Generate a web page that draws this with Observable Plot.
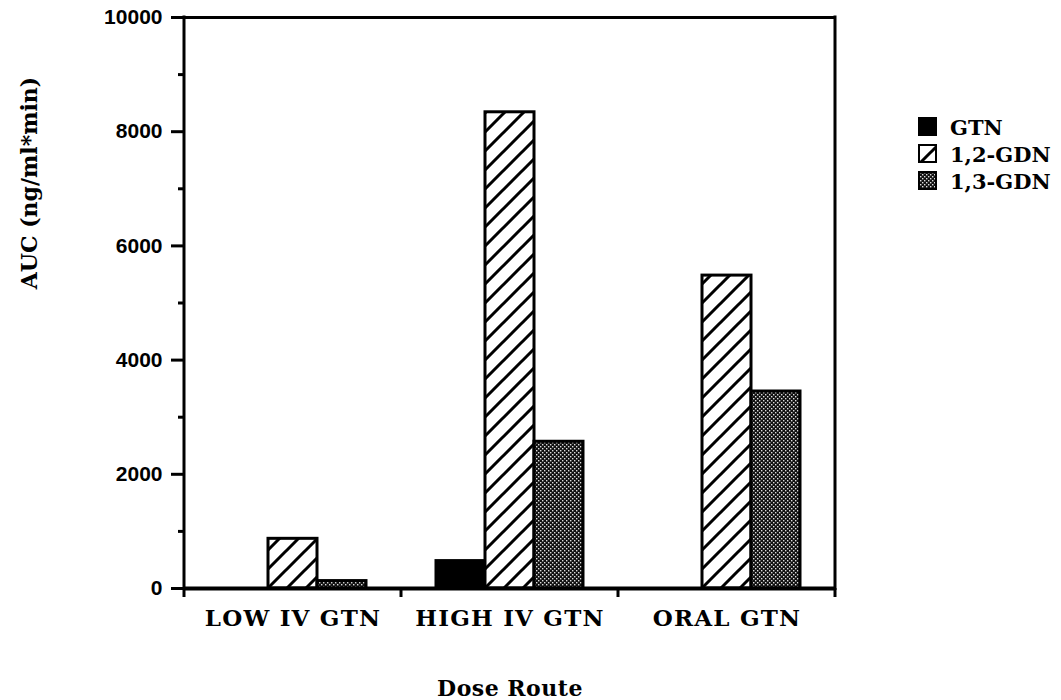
<!DOCTYPE html>
<html><head><meta charset="utf-8">
<script src="https://cdn.jsdelivr.net/npm/d3@7"></script>
<script src="https://cdn.jsdelivr.net/npm/@observablehq/plot@0.6"></script>
<style>body{margin:0;background:#fff} #chart{width:1061px;height:700px}</style>
</head><body><div id="chart"></div>
<script>
// ---- data ----
const routes = ["LOW IV GTN", "HIGH IV GTN", "ORAL GTN"];
const series = ["GTN", "1,2-GDN", "1,3-GDN"];
const gtnValues = [0, 480, 0];
const gdn12Values = [870, 8340, 5480];
const gdn13Values = [130, 2570, 3450];
const yMajorTicks = [0, 2000, 4000, 6000, 8000, 10000];
const yMinorTicks = [1000, 3000, 5000, 7000, 9000];
const yTitle = "AUC (ng/ml*min)";
const xTitle = "Dose Route";

const fills = {"GTN": "#000", "1,2-GDN": "url(#hatch)", "1,3-GDN": "url(#stipple)"};
const seriesValues = [gtnValues, gdn12Values, gdn13Values];
const data = [];
routes.forEach((r, i) => seriesValues.forEach((arr, j) => data.push({route: r, series: series[j], value: arr[i]})));

const serif = "'DejaVu Serif', 'Liberation Serif', serif";
const sans = "'Liberation Sans', Arial, sans-serif";

const barMarks = series.map(s => Plot.barY(data.filter(d => d.series === s && d.value > 0), {
  fx: "route", x: "series", y: "value", fill: fills[s], stroke: "#000", strokeWidth: 3, inset: 0
}));

const plot = Plot.plot({
  width: 1061, height: 700,
  marginLeft: 183, marginRight: 225, marginTop: 17, marginBottom: 112,
  style: {fontFamily: serif, fontWeight: "bold", background: "#fff", color: "#000", overflow: "visible"},
  fx: {domain: routes, padding: 0, label: null},
  x: {domain: series, paddingInner: 0, paddingOuter: 0.68, axis: null},
  y: {domain: [0, 10000]},
  marks: [
    ...barMarks,
    Plot.ruleY([0], {strokeWidth: 4}),
    Plot.ruleY([10000], {strokeWidth: 3}),
    Plot.axisY({ticks: yMajorTicks, tickSize: 13, tickPadding: 9, tickFormat: d3.format("d"), strokeWidth: 3, label: null, fontSize: 21}),
    Plot.axisY({ticks: yMinorTicks, tickSize: 6, tickFormat: () => "", strokeWidth: 3, label: null}),
    Plot.axisFx({anchor: "bottom", tickSize: 0, tickPadding: 21, fontSize: 23, label: xTitle, labelAnchor: "center", labelOffset: 107})
  ]
});
document.getElementById("chart").appendChild(plot);

// ---- post-processing: patterns, frame, ticks, title, legend ----
const svg = d3.select(plot);
const defs = svg.insert("defs", ":first-child");
const hatch = defs.append("pattern").attr("id", "hatch").attr("patternUnits", "userSpaceOnUse")
  .attr("width", 19).attr("height", 19);
hatch.append("rect").attr("width", 19).attr("height", 19).attr("fill", "#fff");
hatch.append("path").attr("d", "M-5,5L5,-5M0,19L19,0M14,24L24,14").attr("stroke", "#000").attr("stroke-width", 3);
const stip = defs.append("pattern").attr("id", "stipple").attr("patternUnits", "userSpaceOnUse")
  .attr("width", 4).attr("height", 4);
stip.append("rect").attr("width", 4).attr("height", 4).attr("fill", "#111");
stip.append("rect").attr("x", 0).attr("y", 0).attr("width", 1.4).attr("height", 1.4).attr("fill", "#ddd");
stip.append("rect").attr("x", 2).attr("y", 2).attr("width", 1.4).attr("height", 1.4).attr("fill", "#ddd");

const y = plot.scale("y");
const fx = plot.scale("fx");
const y0 = y.apply(0), y1 = y.apply(10000);
const left = fx.apply(routes[0]);
const right = fx.apply(routes[routes.length - 1]) + fx.bandwidth;
const g = svg.append("g").attr("stroke", "#000").attr("stroke-width", 3);
g.append("line").attr("x1", left).attr("x2", left).attr("y1", y1 - 1.5).attr("y2", y0 + 2);
g.append("line").attr("x1", right).attr("x2", right).attr("y1", y1 - 1.5).attr("y2", y0 + 2);
const bounds = routes.map(r => fx.apply(r)).concat([right]);
bounds.forEach(b => g.append("line").attr("x1", b).attr("x2", b).attr("y1", y0).attr("y2", y0 + 9));

svg.selectAll("[aria-label='y-axis tick label'] text, [aria-label='y-axis tick label']")
  .attr("font-family", sans).attr("font-weight", "bold").attr("font-size", 21);
svg.selectAll("[aria-label='fx-axis tick label'] text, [aria-label='fx-axis tick label']")
  .attr("letter-spacing", 1.2);
svg.selectAll("[aria-label='fx-axis label'] text, [aria-label='fx-axis label']")
  .attr("font-size", 22).attr("letter-spacing", 0.5);

svg.append("text").attr("transform", `translate(29,183) rotate(-90)`)
  .attr("text-anchor", "middle").attr("dominant-baseline", "central")
  .attr("font-family", serif).attr("font-weight", "bold").attr("font-size", 22).text(yTitle);

const leg = svg.append("g").attr("font-family", serif).attr("font-weight", "bold").attr("font-size", 21)
  .attr("text-anchor", "start");
series.forEach((s, i) => {
  leg.append("rect").attr("x", 919).attr("y", 118 + i * 27).attr("width", 17).attr("height", 17)
    .attr("fill", fills[s]).attr("stroke", "#000").attr("stroke-width", 2);
  leg.append("text").attr("x", 950).attr("y", 127 + i * 27).attr("dominant-baseline", "central").text(s);
});
</script>
</body></html>
